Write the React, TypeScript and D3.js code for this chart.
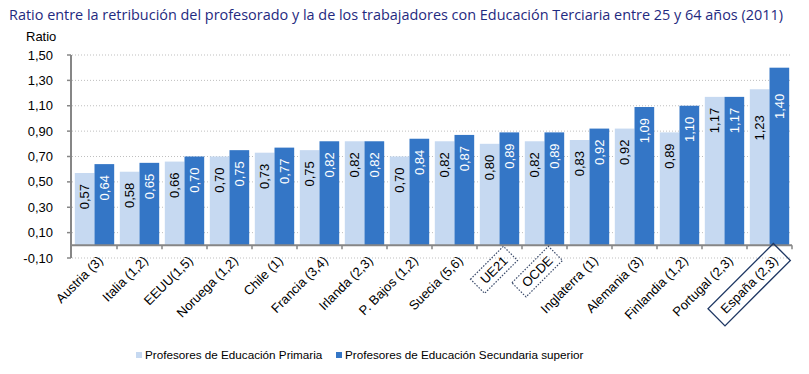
import { useEffect, useRef } from "react";
import * as d3 from "d3";

const categories = [
  "Austria (3)",
  "Italia (1,2)",
  "EEUU(1,5)",
  "Noruega (1,2)",
  "Chile (1)",
  "Francia (3,4)",
  "Irlanda (2,3)",
  "P. Bajos (1,2)",
  "Suecia (5,6)",
  "UE21",
  "OCDE",
  "Inglaterra (1)",
  "Alemania (3)",
  "Finlandia (1,2)",
  "Portugal (2,3)",
  "España (2,3)",
];
const primaria = [0.57, 0.58, 0.66, 0.7, 0.73, 0.75, 0.82, 0.7, 0.82, 0.8, 0.82, 0.83, 0.92, 0.89, 1.17, 1.23];
const secundaria = [0.64, 0.65, 0.7, 0.75, 0.77, 0.82, 0.82, 0.84, 0.87, 0.89, 0.89, 0.92, 1.09, 1.1, 1.17, 1.4];
const yTicks = [-0.1, 0.1, 0.3, 0.5, 0.7, 0.9, 1.1, 1.3, 1.5];
const dottedBoxes = ["UE21", "OCDE"];
const solidBoxes = ["España (2,3)"];

const LIGHT = "#c6d9f1";
const DARK = "#3476c6";
const FONT = "Arial, 'Liberation Sans', sans-serif";

export default function App() {
  const ref = useRef<SVGSVGElement>(null);

  useEffect(() => {
    if (!ref.current) return;
    const svg = d3.select(ref.current);
    svg.selectAll("*").remove();

    const left = 72;
    const right = 792;
    const top = 55;
    const bottom = 258;

    const x = d3.scaleBand<string>().domain(categories).range([left, right]).paddingInner(0.125).paddingOuter(0.0625);
    const xSub = d3.scaleBand<string>().domain(["p", "s"]).range([0, x.bandwidth()]);
    const y = d3.scaleLinear().domain([-0.1, 1.5]).range([bottom, top]);
    const fmt = (v: number) => d3.format(".2f")(v).replace(".", ",").replace("−", "-");

    // title
    svg
      .append("text")
      .attr("x", 9)
      .attr("y", 20)
      .attr("textLength", 774)
      .attr("lengthAdjust", "spacingAndGlyphs")
      .style("font-family", "'Open Sans', 'Noto Sans', sans-serif")
      .style("font-size", "14.5px")
      .style("fill", "#1f2a80")
      .text("Ratio entre la retribución del profesorado y la de los trabajadores con Educación Terciaria entre 25 y 64 años (2011)");

    svg
      .append("text")
      .attr("x", 26)
      .attr("y", 41)
      .style("font-family", FONT)
      .style("font-size", "13px")
      .style("fill", "#000")
      .text("Ratio");

    // grid
    svg
      .append("g")
      .selectAll("line")
      .data(yTicks)
      .enter()
      .append("line")
      .attr("x1", left)
      .attr("x2", right)
      .attr("y1", (d) => y(d))
      .attr("y2", (d) => y(d))
      .attr("stroke", "#bfbfbf")
      .attr("stroke-dasharray", "1,2");

    // y axis
    const yAxis = svg.append("g");
    yAxis
      .append("line")
      .attr("x1", left - 1)
      .attr("x2", left - 1)
      .attr("y1", top)
      .attr("y2", bottom)
      .attr("stroke", "#868686")
      .attr("stroke-width", 2);
    yAxis
      .selectAll(".tk")
      .data(yTicks)
      .enter()
      .append("line")
      .attr("x1", left - 5)
      .attr("x2", left - 1)
      .attr("y1", (d) => y(d))
      .attr("y2", (d) => y(d))
      .attr("stroke", "#868686")
      .attr("stroke-width", 1.5);
    yAxis
      .selectAll("text")
      .data(yTicks)
      .enter()
      .append("text")
      .attr("x", 53)
      .attr("y", (d) => y(d))
      .attr("dy", "0.35em")
      .attr("text-anchor", "end")
      .style("font-family", FONT)
      .style("font-size", "13px")
      .style("fill", "#000")
      .text((d) => fmt(d));

    // bars
    const groups = svg
      .append("g")
      .selectAll("g")
      .data(categories)
      .enter()
      .append("g")
      .attr("transform", (d) => `translate(${x(d)},0)`);

    const series = [
      { key: "p", values: primaria, color: LIGHT, text: "#000" },
      { key: "s", values: secundaria, color: DARK, text: "#fff" },
    ];

    series.forEach((s) => {
      groups
        .append("rect")
        .attr("x", xSub(s.key) as number)
        .attr("width", xSub.bandwidth())
        .attr("y", (_, i) => y(s.values[i]))
        .attr("height", (_, i) => y(0) - y(s.values[i]))
        .attr("fill", s.color);

      groups
        .append("text")
        .attr("transform", (_, i) => {
          const cx = (xSub(s.key) as number) + xSub.bandwidth() / 2;
          const off = i === categories.length - 1 ? 26 : 11;
          return `translate(${cx},${y(s.values[i]) + off}) rotate(-90)`;
        })
        .attr("dy", "0.35em")
        .attr("text-anchor", "end")
        .style("font-family", FONT)
        .style("font-size", "13px")
        .style("fill", s.text)
        .text((_, i) => fmt(s.values[i]));
    });

    // x axis
    const xAxis = svg.append("g");
    xAxis
      .append("line")
      .attr("x1", left - 2)
      .attr("x2", right)
      .attr("y1", y(0))
      .attr("y2", y(0))
      .attr("stroke", "#868686")
      .attr("stroke-width", 2);
    xAxis
      .selectAll(".tk")
      .data(categories)
      .enter()
      .append("line")
      .attr("x1", (d) => (x(d) as number) + x.bandwidth() + (x.step() - x.bandwidth()) / 2)
      .attr("x2", (d) => (x(d) as number) + x.bandwidth() + (x.step() - x.bandwidth()) / 2)
      .attr("y1", y(0))
      .attr("y2", y(0) + 4)
      .attr("stroke", "#868686")
      .attr("stroke-width", 1.5);

    const labels = xAxis
      .selectAll(".lbl")
      .data(categories)
      .enter()
      .append("g")
      .attr("transform", (d) => `translate(${(x(d) as number) + x.bandwidth() / 2 + 6},${y(0) + 13}) rotate(-45)`);

    labels
      .append("text")
      .attr("text-anchor", "end")
      .attr("dy", "0.35em")
      .style("font-family", FONT)
      .style("font-size", "13px")
      .style("fill", "#000")
      .text((d) => d);

    labels.each(function (d) {
      const g = d3.select(this);
      const dotted = dottedBoxes.includes(d);
      const solid = solidBoxes.includes(d);
      if (!dotted && !solid) return;
      const t = g.select("text").node() as SVGTextElement;
      const len = t.getComputedTextLength();
      const pad = solid ? 9 : 7;
      g.insert("rect", "text")
        .attr("x", -len - pad)
        .attr("y", solid ? -12 : -10)
        .attr("width", len + pad * 2)
        .attr("height", solid ? 24 : 20)
        .attr("fill", "none")
        .attr("stroke", solid ? "#1f3864" : "#3a4a6a")
        .attr("stroke-width", solid ? 1.3 : 1.2)
        .attr("stroke-dasharray", dotted ? "1.5,1.5" : null);
    });

    // legend
    const legend = [
      { label: "Profesores de Educación Primaria", color: LIGHT, x: 136 },
      { label: "Profesores de Educación Secundaria superior", color: DARK, x: 336 },
    ];
    const lg = svg
      .append("g")
      .selectAll("g")
      .data(legend)
      .enter()
      .append("g")
      .attr("transform", (d) => `translate(${d.x},355)`);
    lg.append("rect").attr("x", 0).attr("y", -3).attr("width", 6).attr("height", 6).attr("fill", (d) => d.color);
    lg.append("text")
      .attr("x", 9)
      .attr("dy", "0.35em")
      .style("font-family", FONT)
      .style("font-size", "11.7px")
      .style("fill", "#000")
      .text((d) => d.label);
  }, []);

  return (
    <svg
      ref={ref}
      width={809}
      height={374}
      style={{ position: "absolute", left: 0, top: 0, background: "#fff" }}
    />
  );
}
